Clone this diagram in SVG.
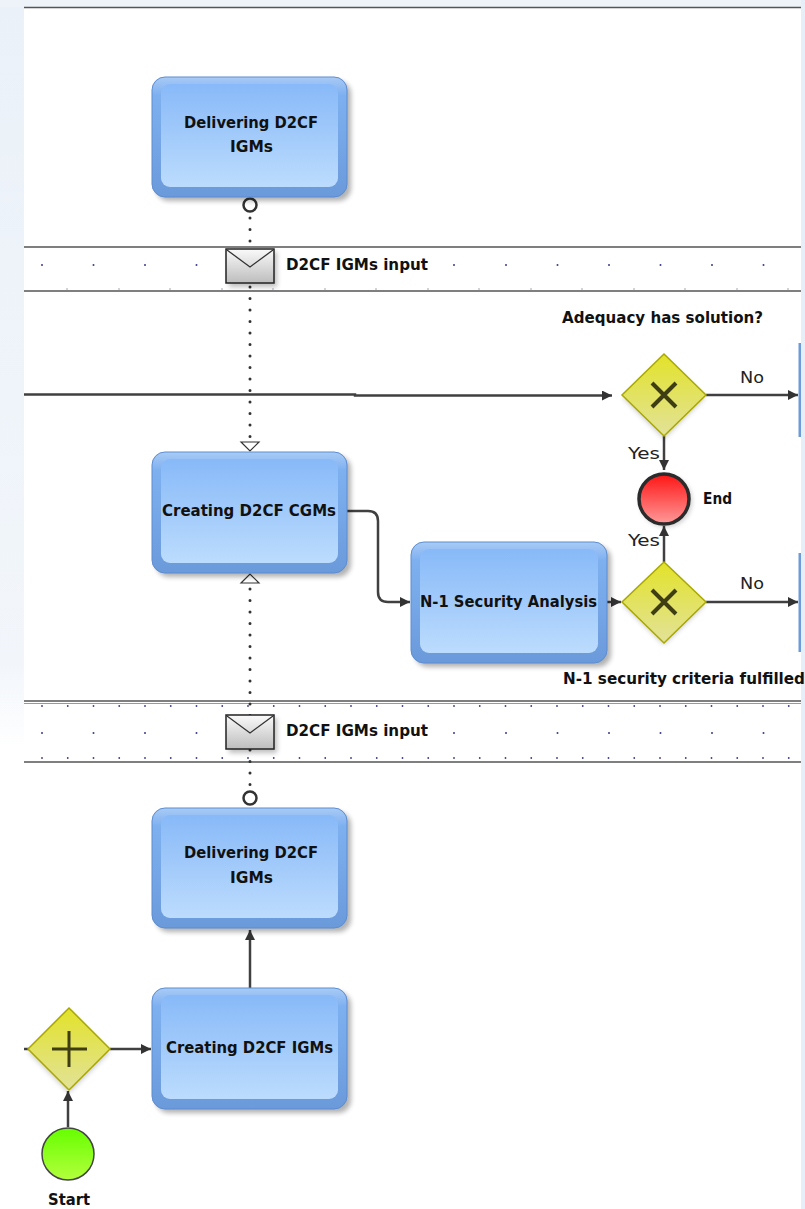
<svg xmlns="http://www.w3.org/2000/svg" width="805" height="1209" viewBox="0 0 805 1209">
<style>
.t{font-family:"DejaVu Sans Condensed","DejaVu Sans","Liberation Sans",sans-serif;font-weight:bold;font-size:15px;fill:#111}
.r{font-family:"DejaVu Sans Condensed","DejaVu Sans","Liberation Sans",sans-serif;font-size:15px;fill:#222}
.flow{fill:none;stroke:#404040;stroke-width:2.5}
.msg{fill:none;stroke:#333;stroke-width:3;stroke-dasharray:0 11.5;stroke-linecap:round}
.lane{stroke:#555;stroke-width:1.5}
.dot{fill:#3a3a90}
.tick{fill:#9a9aa8}
</style>
<defs>
<linearGradient id="bgL" x1="0" y1="0" x2="0" y2="1"><stop offset="0" stop-color="#eaf1f8"/><stop offset="0.55" stop-color="#f2f6fb"/><stop offset="0.62" stop-color="#ffffff"/></linearGradient>
<linearGradient id="tOut" x1="0" y1="0" x2="0" y2="1"><stop offset="0" stop-color="#a9cbf6"/><stop offset="0.15" stop-color="#7eb0f0"/><stop offset="1" stop-color="#6b9adb"/></linearGradient>
<linearGradient id="tIn" x1="0" y1="0" x2="0" y2="1"><stop offset="0" stop-color="#88b9f8"/><stop offset="1" stop-color="#bcdcfd"/></linearGradient>
<linearGradient id="gw" x1="0" y1="0" x2="0" y2="1"><stop offset="0" stop-color="#e2e22a"/><stop offset="1" stop-color="#e2e29a"/></linearGradient>
<linearGradient id="red" x1="0" y1="0" x2="0" y2="1"><stop offset="0" stop-color="#ff1414"/><stop offset="1" stop-color="#ff9a9a"/></linearGradient>
<linearGradient id="green" x1="0" y1="0" x2="0" y2="1"><stop offset="0" stop-color="#66ff00"/><stop offset="1" stop-color="#b4ff3c"/></linearGradient>
<linearGradient id="env" x1="0" y1="0" x2="0" y2="1"><stop offset="0" stop-color="#fafafa"/><stop offset="1" stop-color="#bdbdbd"/></linearGradient>
<filter id="sh" x="-20%" y="-20%" width="140%" height="140%"><feGaussianBlur stdDeviation="2.5"/></filter>
<marker id="ar" viewBox="0 0 10 10" refX="10" refY="5" markerWidth="10" markerHeight="10" markerUnits="userSpaceOnUse" orient="auto"><path d="M0,0 L10,5 L0,10 Z" fill="#333"/></marker>
</defs>

<rect x="0" y="0" width="805" height="1209" fill="#ffffff"/>
<rect x="0" y="0" width="24" height="1209" fill="url(#bgL)"/>
<rect x="0" y="0" width="805" height="7" fill="#edf3f9"/>
<rect x="801" y="0" width="4" height="1209" fill="#e6eef8"/>

<g id="lanes">
<line class="lane" x1="24" y1="7.5" x2="801" y2="7.5"/>
<line class="lane" x1="24" y1="247" x2="801" y2="247"/>
<line class="lane" x1="24" y1="291" x2="801" y2="291"/>
<line class="lane" x1="24" y1="701" x2="801" y2="701"/>
<line stroke="#999" stroke-width="1" x1="24" y1="703.5" x2="801" y2="703.5"/>
<line class="lane" x1="24" y1="762" x2="801" y2="762"/>
<g class="dot">
<circle cx="42" cy="265" r="1"/><circle cx="93.5" cy="265" r="1"/><circle cx="145" cy="265" r="1"/><circle cx="196.5" cy="265" r="1"/><circle cx="454" cy="265" r="1"/><circle cx="506" cy="265" r="1"/><circle cx="557.5" cy="265" r="1"/><circle cx="609" cy="265" r="1"/><circle cx="660.5" cy="265" r="1"/><circle cx="712" cy="265" r="1"/><circle cx="763.5" cy="265" r="1"/>
<circle cx="42" cy="733" r="1"/><circle cx="93.5" cy="733" r="1"/><circle cx="145" cy="733" r="1"/><circle cx="196.5" cy="733" r="1"/><circle cx="454" cy="733" r="1"/><circle cx="506" cy="733" r="1"/><circle cx="557.5" cy="733" r="1"/><circle cx="609" cy="733" r="1"/><circle cx="660.5" cy="733" r="1"/><circle cx="712" cy="733" r="1"/><circle cx="763.5" cy="733" r="1"/>
</g>
<g class="dot">
<circle cx="42" cy="706" r="0.9"/><circle cx="67.75" cy="706" r="0.9"/><circle cx="93.5" cy="706" r="0.9"/><circle cx="119.25" cy="706" r="0.9"/><circle cx="145" cy="706" r="0.9"/><circle cx="170.75" cy="706" r="0.9"/><circle cx="196.5" cy="706" r="0.9"/><circle cx="222.25" cy="706" r="0.9"/><circle cx="248" cy="706" r="0.9"/><circle cx="273.75" cy="706" r="0.9"/><circle cx="299.5" cy="706" r="0.9"/><circle cx="325.25" cy="706" r="0.9"/><circle cx="351" cy="706" r="0.9"/><circle cx="376.75" cy="706" r="0.9"/><circle cx="402.5" cy="706" r="0.9"/><circle cx="428.25" cy="706" r="0.9"/><circle cx="454" cy="706" r="0.9"/><circle cx="479.75" cy="706" r="0.9"/><circle cx="505.5" cy="706" r="0.9"/><circle cx="531.25" cy="706" r="0.9"/><circle cx="557" cy="706" r="0.9"/><circle cx="582.75" cy="706" r="0.9"/><circle cx="608.5" cy="706" r="0.9"/><circle cx="634.25" cy="706" r="0.9"/><circle cx="660" cy="706" r="0.9"/><circle cx="685.75" cy="706" r="0.9"/><circle cx="711.5" cy="706" r="0.9"/><circle cx="737.25" cy="706" r="0.9"/><circle cx="763" cy="706" r="0.9"/><circle cx="788.75" cy="706" r="0.9"/>
<circle cx="42" cy="758" r="0.9"/><circle cx="67.75" cy="758" r="0.9"/><circle cx="93.5" cy="758" r="0.9"/><circle cx="119.25" cy="758" r="0.9"/><circle cx="145" cy="758" r="0.9"/><circle cx="170.75" cy="758" r="0.9"/><circle cx="196.5" cy="758" r="0.9"/><circle cx="222.25" cy="758" r="0.9"/><circle cx="248" cy="758" r="0.9"/><circle cx="273.75" cy="758" r="0.9"/><circle cx="299.5" cy="758" r="0.9"/><circle cx="325.25" cy="758" r="0.9"/><circle cx="351" cy="758" r="0.9"/><circle cx="376.75" cy="758" r="0.9"/><circle cx="402.5" cy="758" r="0.9"/><circle cx="428.25" cy="758" r="0.9"/><circle cx="454" cy="758" r="0.9"/><circle cx="479.75" cy="758" r="0.9"/><circle cx="505.5" cy="758" r="0.9"/><circle cx="531.25" cy="758" r="0.9"/><circle cx="557" cy="758" r="0.9"/><circle cx="582.75" cy="758" r="0.9"/><circle cx="608.5" cy="758" r="0.9"/><circle cx="634.25" cy="758" r="0.9"/><circle cx="660" cy="758" r="0.9"/><circle cx="685.75" cy="758" r="0.9"/><circle cx="711.5" cy="758" r="0.9"/><circle cx="737.25" cy="758" r="0.9"/><circle cx="763" cy="758" r="0.9"/><circle cx="788.75" cy="758" r="0.9"/>
</g>
<g class="tick">
<circle cx="67" cy="289" r="0.8"/><circle cx="119" cy="289" r="0.8"/><circle cx="170" cy="289" r="0.8"/><circle cx="222" cy="289" r="0.8"/><circle cx="273" cy="289" r="0.8"/><circle cx="325" cy="289" r="0.8"/><circle cx="376" cy="289" r="0.8"/><circle cx="428" cy="289" r="0.8"/><circle cx="479" cy="289" r="0.8"/><circle cx="531" cy="289" r="0.8"/><circle cx="582" cy="289" r="0.8"/><circle cx="634" cy="289" r="0.8"/><circle cx="685" cy="289" r="0.8"/><circle cx="737" cy="289" r="0.8"/><circle cx="788" cy="289" r="0.8"/>
</g>
</g>

<g id="connectors">
<path class="flow" d="M24,394.5 H355 V395.5 H612" marker-end="url(#ar)"/>
<path class="flow" d="M347,511 H368 Q378,511 378,521 V592 Q378,602 388,602 H410" marker-end="url(#ar)"/>
<path class="flow" d="M607,602 H621" marker-end="url(#ar)"/>
<path class="flow" d="M706,395 H798" marker-end="url(#ar)"/>
<path class="flow" d="M706,602 H798" marker-end="url(#ar)"/>
<path class="flow" d="M664,436 V470" marker-end="url(#ar)"/>
<path class="flow" d="M664,562 V526" marker-end="url(#ar)"/>
<path class="flow" d="M250,988 V930" marker-end="url(#ar)"/>
<path class="flow" d="M110,1049 H151" marker-end="url(#ar)"/>
<path class="flow" d="M24,1049 H30"/>
<path class="flow" d="M68,1127 V1091" marker-end="url(#ar)"/>
<line class="msg" x1="250" y1="218" x2="250" y2="441"/>
<circle cx="250" cy="205" r="6.5" fill="#fff" stroke="#333" stroke-width="2.5"/>
<path d="M241,442 H259 L250,451 Z" fill="#fff" stroke="#333" stroke-width="1.2"/>
<line class="msg" x1="250" y1="589" x2="250" y2="790"/>
<path d="M241,583 H259 L250,574 Z" fill="#fff" stroke="#333" stroke-width="1.2"/>
<circle cx="250" cy="798" r="6.5" fill="#fff" stroke="#333" stroke-width="2.5"/>
<text class="r" x="740" y="383" textLength="24" lengthAdjust="spacingAndGlyphs">No</text>
<text class="r" x="740" y="589" textLength="24" lengthAdjust="spacingAndGlyphs">No</text>
<text class="r" x="628" y="459" textLength="32" lengthAdjust="spacingAndGlyphs">Yes</text>
<text class="r" x="628" y="546" textLength="32" lengthAdjust="spacingAndGlyphs">Yes</text>
</g>

<g id="msg1">
<rect x="229" y="252" width="48" height="35" fill="#000" opacity="0.25" filter="url(#sh)"/>
<rect x="226" y="249" width="48" height="34" fill="url(#env)" stroke="#222" stroke-width="1.5"/>
<path d="M227,250 L250,267 L273,250" fill="none" stroke="#333" stroke-width="1.3"/>
<text class="t" x="286" y="270" textLength="142" lengthAdjust="spacingAndGlyphs">D2CF IGMs input</text>
</g>
<g id="msg2">
<rect x="229" y="718" width="48" height="35" fill="#000" opacity="0.25" filter="url(#sh)"/>
<rect x="226" y="715" width="48" height="34" fill="url(#env)" stroke="#222" stroke-width="1.5"/>
<path d="M227,716 L250,733 L273,716" fill="none" stroke="#333" stroke-width="1.3"/>
<text class="t" x="286" y="736" textLength="142" lengthAdjust="spacingAndGlyphs">D2CF IGMs input</text>
</g>

<g id="task-delivering-top">
<rect x="156" y="81" width="195" height="120" rx="13" fill="#000" opacity="0.3" filter="url(#sh)"/>
<rect x="152" y="77" width="195" height="120" rx="13" fill="url(#tOut)" stroke="#5d8dd0" stroke-width="1"/>
<rect x="161" y="84" width="177" height="103" rx="9" fill="url(#tIn)"/>
<text class="t" x="184" y="128" textLength="134" lengthAdjust="spacingAndGlyphs">Delivering D2CF</text>
<text class="t" x="230" y="152" textLength="43" lengthAdjust="spacingAndGlyphs">IGMs</text>
</g>

<g id="task-creating-cgms">
<rect x="156" y="456" width="195" height="121" rx="13" fill="#000" opacity="0.3" filter="url(#sh)"/>
<rect x="152" y="452" width="195" height="121" rx="13" fill="url(#tOut)" stroke="#5d8dd0" stroke-width="1"/>
<rect x="161" y="459" width="177" height="104" rx="9" fill="url(#tIn)"/>
<text class="t" x="162" y="516" textLength="174" lengthAdjust="spacingAndGlyphs">Creating D2CF CGMs</text>
</g>

<g id="task-n1">
<rect x="415" y="546" width="196" height="121" rx="13" fill="#000" opacity="0.3" filter="url(#sh)"/>
<rect x="411" y="542" width="196" height="121" rx="13" fill="url(#tOut)" stroke="#5d8dd0" stroke-width="1"/>
<rect x="420" y="549" width="178" height="104" rx="9" fill="url(#tIn)"/>
<text class="t" x="420" y="607" textLength="177" lengthAdjust="spacingAndGlyphs">N-1 Security Analysis</text>
</g>

<g id="task-delivering-bottom">
<rect x="156" y="812" width="195" height="120" rx="13" fill="#000" opacity="0.3" filter="url(#sh)"/>
<rect x="152" y="808" width="195" height="120" rx="13" fill="url(#tOut)" stroke="#5d8dd0" stroke-width="1"/>
<rect x="161" y="815" width="177" height="103" rx="9" fill="url(#tIn)"/>
<text class="t" x="184" y="858" textLength="134" lengthAdjust="spacingAndGlyphs">Delivering D2CF</text>
<text class="t" x="230" y="883" textLength="43" lengthAdjust="spacingAndGlyphs">IGMs</text>
</g>

<g id="task-creating-igms">
<rect x="156" y="992" width="195" height="121" rx="13" fill="#000" opacity="0.3" filter="url(#sh)"/>
<rect x="152" y="988" width="195" height="121" rx="13" fill="url(#tOut)" stroke="#5d8dd0" stroke-width="1"/>
<rect x="161" y="995" width="177" height="104" rx="9" fill="url(#tIn)"/>
<text class="t" x="166" y="1053" textLength="167" lengthAdjust="spacingAndGlyphs">Creating D2CF IGMs</text>
</g>

<g id="partial-right">
<rect x="798.5" y="343" width="2.5" height="94" fill="#6d9ad8"/>
<rect x="798.5" y="553" width="2.5" height="99" fill="#6d9ad8"/>
</g>

<g id="gw-adequacy">
<path d="M664,357 L705,398 L664,439 L623,398 Z" fill="#000" opacity="0.2" filter="url(#sh)"/>
<path d="M664,354 L706,395 L664,436 L622,395 Z" fill="url(#gw)" stroke="#aaa800" stroke-width="1.5"/>
<path d="M652,383 L676,407 M676,383 L652,407" stroke="#3e3e12" stroke-width="4"/>
<text class="t" x="562" y="323" textLength="201" lengthAdjust="spacingAndGlyphs">Adequacy has solution?</text>
</g>

<g id="end">
<circle cx="666" cy="501" r="26" fill="#000" opacity="0.2" filter="url(#sh)"/>
<circle cx="664" cy="499" r="25" fill="url(#red)" stroke="#2b2b2b" stroke-width="3.5"/>
<text class="t" x="703" y="504" textLength="29" lengthAdjust="spacingAndGlyphs">End</text>
</g>

<g id="gw-n1">
<path d="M664,565 L705,605 L664,645 L623,605 Z" fill="#000" opacity="0.2" filter="url(#sh)"/>
<path d="M664,562 L706,602 L664,643 L622,602 Z" fill="url(#gw)" stroke="#aaa800" stroke-width="1.5"/>
<path d="M652,590 L676,614 M676,590 L652,614" stroke="#3e3e12" stroke-width="4"/>
<text class="t" x="563" y="684" textLength="242" lengthAdjust="spacingAndGlyphs">N-1 security criteria fulfilled</text>
</g>

<g id="gw-parallel">
<path d="M69,1011 L110,1052 L69,1093 L28,1052 Z" fill="#000" opacity="0.2" filter="url(#sh)"/>
<path d="M69,1008 L110,1049 L69,1090 L28,1049 Z" fill="url(#gw)" stroke="#aaa800" stroke-width="1.5"/>
<path d="M52,1049 H87 M69,1031 V1067" stroke="#3e3e12" stroke-width="3"/>
</g>

<g id="start">
<circle cx="68" cy="1154" r="26" fill="url(#green)" stroke="#444" stroke-width="1.5"/>
<text class="t" x="48" y="1205" textLength="42" lengthAdjust="spacingAndGlyphs">Start</text>
</g>
</svg>
